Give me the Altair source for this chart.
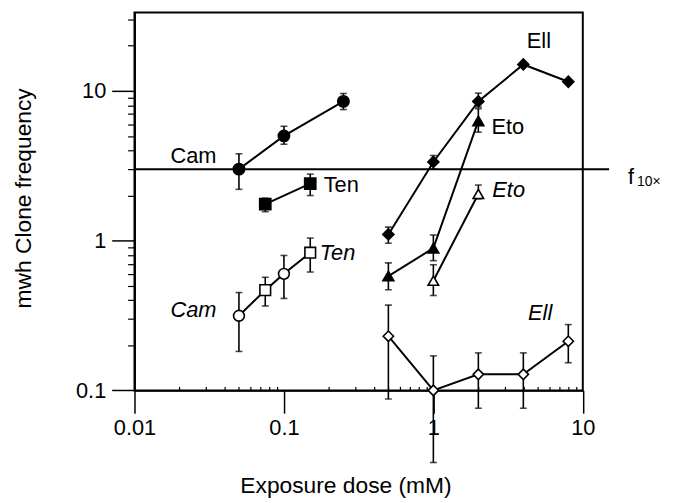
import altair as alt
import pandas as pd

# ---------------- data ----------------
cam_dose = [0.05, 0.1, 0.25]
cam_freq = [3.0, 5.0, 8.5]
cam_lo = [2.2, 4.4, 7.5]
cam_hi = [3.8, 5.8, 9.6]

ten_dose = [0.075, 0.15]
ten_freq = [1.75, 2.4]
ten_lo = [1.56, 2.0]
ten_hi = [1.92, 2.78]

ell_dose = [0.5, 1, 2, 4, 8]
ell_freq = [1.1, 3.35, 8.5, 15.0, 11.5]
ell_lo = [0.96, 3.0, 7.8, None, None]
ell_hi = [1.23, 3.7, 9.65, None, None]

eto_dose = [0.5, 1, 2]
eto_freq = [0.58, 0.89, 6.3]
eto_lo = [0.47, 0.735, 5.3]
eto_hi = [0.71, 1.09, 7.6]

cam_o_dose = [0.05, 0.1]
cam_o_freq = [0.315, 0.60]
cam_o_lo = [0.182, 0.411]
cam_o_hi = [0.45, 0.796]

ten_o_dose = [0.075, 0.15]
ten_o_freq = [0.467, 0.83]
ten_o_lo = [0.366, 0.617]
ten_o_hi = [0.569, 1.04]

eto_o_dose = [1, 2]
eto_o_freq = [0.54, 2.05]
eto_o_lo = [0.43, 1.9]
eto_o_hi = [0.69, 2.35]

ell_o_dose = [0.5, 1, 2, 4, 8]
ell_o_freq = [0.23, 0.1, 0.128, 0.128, 0.213]
ell_o_lo = [0.0875, 0.033, 0.076, 0.076, 0.153]
ell_o_hi = [0.371, 0.17, 0.178, 0.178, 0.275]

f10_level = 3.0
f10_dose_from = 0.01
f10_dose_to = 15.0

x_major = [0.01, 0.1, 1, 10]
x_minor = [0.02, 0.03, 0.04, 0.05, 0.06, 0.07, 0.08, 0.09,
           0.2, 0.3, 0.4, 0.5, 0.6, 0.7, 0.8, 0.9,
           2, 3, 4, 5, 6, 7, 8, 9]
y_major = [0.1, 1, 10]
y_minor = [0.2, 0.3, 0.4, 0.5, 0.6, 0.7, 0.8, 0.9,
           2, 3, 4, 5, 6, 7, 8, 9, 20, 30]

upright_labels = ["Cam", "Ten", "Ell", "Eto"]
upright_dose = [0.0174, 0.1845, 4.22, 2.445]
upright_freq = [3.68, 2.36, 21.4, 5.72]

italic_labels = ["Cam", "Ten", "Eto", "Ell"]
italic_dose = [0.0174, 0.1736, 2.48, 4.30]
italic_freq = [0.343, 0.83, 2.19, 0.33]

series_names = ["Cam", "Ten", "Ell", "Eto", "Cam open", "Ten open", "Eto open", "Ell open"]
series_shapes = ["circle", "square", "diamond", "triangle-up",
                 "circle", "square", "triangle-up", "diamond"]
series_fill = ["black", "black", "black", "black", "white", "white", "white", "white"]
series_size = [130, 110, 200, 150, 115, 105, 135, 175]

# ---------------- tables ----------------
rows = []
def add(name, group, d, f, lo, hi):
    for a, b, c, e in zip(d, f, lo, hi):
        rows.append(dict(series=name, group=group, dose=a, freq=b, lo=c, hi=e))

add("Cam", "cam", cam_dose, cam_freq, cam_lo, cam_hi)
add("Ten", "ten", ten_dose, ten_freq, ten_lo, ten_hi)
add("Ell", "ell", ell_dose, ell_freq, ell_lo, ell_hi)
add("Eto", "eto", eto_dose, eto_freq, eto_lo, eto_hi)
add("Cam open", "camten_o", cam_o_dose, cam_o_freq, cam_o_lo, cam_o_hi)
add("Ten open", "camten_o", ten_o_dose, ten_o_freq, ten_o_lo, ten_o_hi)
add("Eto open", "eto_o", eto_o_dose, eto_o_freq, eto_o_lo, eto_o_hi)
add("Ell open", "ell_o", ell_o_dose, ell_o_freq, ell_o_lo, ell_o_hi)
df = pd.DataFrame(rows)
err = df.dropna(subset=["lo", "hi"])

f10df = pd.DataFrame({"x1": [f10_dose_from], "x2": [f10_dose_to], "y": [f10_level]})
up_df = pd.DataFrame({"t": upright_labels, "dose": upright_dose, "freq": upright_freq})
it_df = pd.DataFrame({"t": italic_labels, "dose": italic_dose, "freq": italic_freq})
f_df = pd.DataFrame({"t": ["f"], "dose": [20.1], "freq": [2.40]})
sub_df = pd.DataFrame({"t": ["10\u00d7"], "dose": [23.05], "freq": [2.33]})

FONT = "Liberation Sans"
W, H = 452.6, 381.4

xs = alt.Scale(type="log", domain=[0.01, 10], nice=False)
ys = alt.Scale(type="log", domain=[0.1, 33.3], nice=False)

ax_x = alt.Axis(values=x_major, format="~g", tickSize=23, tickWidth=1.5, tickColor="black",
                domainColor="black", domainWidth=2, labelFont=FONT, labelFontSize=22,
                labelColor="black", labelPadding=5, labelFlush=False, labelAlign="center",
                grid=False,
                title="Exposure dose (mM)", titleFont=FONT, titleFontSize=23,
                titleFontWeight="normal", titleColor="black",
                titleX=213, titleY=103, titleBaseline="alphabetic", titleAlign="center")
ax_y = alt.Axis(values=y_major, format="~g", tickSize=23, tickWidth=1.5, tickColor="black",
                domainColor="black", domainWidth=2, labelFont=FONT, labelFontSize=22,
                labelColor="black", labelPadding=6, labelFlush=False, labelBaseline="middle",
                grid=False, orient="left",
                title="mwh Clone frequency", titleFont=FONT, titleFontSize=23,
                titleFontWeight="normal", titleColor="black",
                titleX=-112, titleY=187, titleAngle=270, titleBaseline="middle",
                titleAlign="center")
ax_xm = alt.Axis(values=x_minor, orient="top", offset=-H, tickSize=4, tickWidth=1.2,
                 tickColor="black", labels=False, domain=False, grid=False, title=None)
ax_ym = alt.Axis(values=y_minor, orient="left", tickSize=7, tickWidth=1.2,
                 tickColor="black", labels=False, domain=False, grid=False, title=None)

lines = alt.Chart(df).mark_line(color="black", strokeWidth=2).encode(
    x=alt.X("dose:Q", scale=xs, axis=ax_x),
    y=alt.Y("freq:Q", scale=ys, axis=ax_y),
    detail="group:N",
)

f10 = alt.Chart(f10df).mark_rule(color="black", strokeWidth=2).encode(
    x=alt.X("x1:Q", scale=xs, axis=ax_xm),
    x2="x2:Q",
    y=alt.Y("y:Q", scale=ys, axis=ax_ym),
)

bars = alt.Chart(err).mark_rule(color="black", strokeWidth=1.6).encode(
    x=alt.X("dose:Q", scale=xs, axis=None),
    y=alt.Y("lo:Q", scale=ys, axis=None),
    y2="hi:Q",
)
cap_lo = alt.Chart(err).mark_tick(color="black", orient="horizontal", size=7, thickness=1.6).encode(
    x=alt.X("dose:Q", scale=xs, axis=None),
    y=alt.Y("lo:Q", scale=ys, axis=None),
)
cap_hi = alt.Chart(err).mark_tick(color="black", orient="horizontal", size=7, thickness=1.6).encode(
    x=alt.X("dose:Q", scale=xs, axis=None),
    y=alt.Y("hi:Q", scale=ys, axis=None),
)

points = alt.Chart(df).mark_point(filled=True, stroke="black", strokeWidth=1.6, opacity=1).encode(
    x=alt.X("dose:Q", scale=xs, axis=None),
    y=alt.Y("freq:Q", scale=ys, axis=None),
    shape=alt.Shape("series:N", scale=alt.Scale(domain=series_names, range=series_shapes), legend=None),
    fill=alt.Fill("series:N", scale=alt.Scale(domain=series_names, range=series_fill), legend=None),
    size=alt.Size("series:N", scale=alt.Scale(domain=series_names, range=series_size), legend=None),
)

def text_layer(d, size, style, baseline):
    return alt.Chart(d).mark_text(align="left", baseline=baseline, font=FONT, fontSize=size,
                                  fontStyle=style, color="black").encode(
        x=alt.X("dose:Q", scale=xs, axis=None),
        y=alt.Y("freq:Q", scale=ys, axis=None),
        text="t:N",
    )

t_up = text_layer(up_df, 22, "normal", "middle")
t_it = text_layer(it_df, 22, "italic", "middle")
t_f = text_layer(f_df, 22, "normal", "alphabetic")
t_sub = text_layer(sub_df, 14, "normal", "alphabetic")

chart = alt.layer(lines, f10, bars, cap_lo, cap_hi, points, t_up, t_it, t_f, t_sub).resolve_axis(
    x="independent", y="independent"
).properties(
    width=W, height=H,
    autosize=alt.AutoSizeParams(type="none"),
    padding={"left": 127.7, "top": 2.3, "right": 84, "bottom": 108},
).configure_view(stroke="black", strokeWidth=2)

chart.save("out.html", embed_options={"renderer": "svg", "actions": False})
